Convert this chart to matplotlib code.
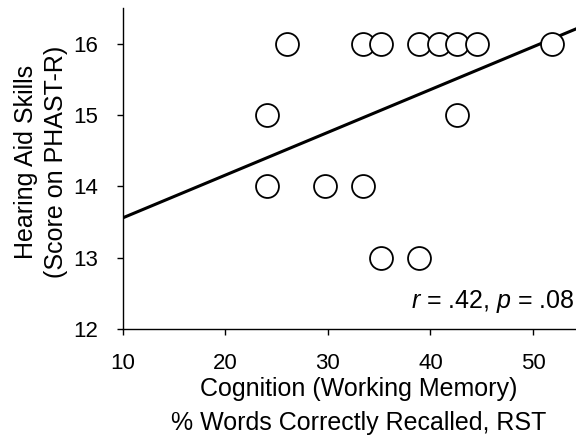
import numpy as np
import matplotlib
matplotlib.use("Agg")
from matplotlib import pyplot as plt

plt.rcParams['font.family'] = ['Liberation Sans', 'DejaVu Sans']
plt.rcParams['mathtext.fontset'] = 'custom'
plt.rcParams['mathtext.it'] = 'Liberation Sans:italic'
plt.rcParams['mathtext.rm'] = 'Liberation Sans'

# % words recalled (RST) vs PHAST-R score
rst = [26.0, 33.4, 35.2, 38.9, 40.8, 42.6, 44.5, 51.9,
       24.1, 42.6,
       24.1, 29.7, 33.4,
       35.2, 38.9]
phast = [16, 16, 16, 16, 16, 16, 16, 16,
         15, 15,
         14, 14, 14,
         13, 13]
# regression line as drawn in the figure
fit_icpt = 12.96
fit_slope = 0.0599
x_ticks = [10, 20, 30, 40, 50]
y_ticks = [12, 13, 14, 15, 16]
stats_txt = r'$\it{r}$ = .42, $\it{p}$ = .08'

fig = plt.figure(figsize=(5.76, 4.36), dpi=100)
ax = fig.add_axes([0.2135, 0.2454, 0.7865, 0.7363])

ax.plot(rst, phast, 'o', ms=16.5, mfc='white', mec='black', mew=1.3, zorder=3)

xl = np.array([10, 54.2])
ax.plot(xl, fit_icpt + fit_slope * xl, color='black', lw=2.2, zorder=2)

ax.set_xlim(10, 54.2)
ax.set_ylim(12, 16.5)
ax.set_xticks(x_ticks)
ax.set_yticks(y_ticks)
ax.spines['top'].set_visible(False)
ax.spines['right'].set_visible(False)
for s in ['left', 'bottom']:
    ax.spines[s].set_linewidth(1.0)
ax.tick_params(direction='out', length=4, width=1.0, labelsize=16)
ax.tick_params(axis='x', pad=13)
ax.tick_params(axis='y', pad=14)

ax.set_xlabel("Cognition (Working Memory)\n% Words Correctly Recalled, RST", fontsize=18, linespacing=1.5)
ax.xaxis.set_label_coords(0.52, -0.151)
ax.set_ylabel("Hearing Aid Skills\n(Score on PHAST-R)", fontsize=18, linespacing=1.3, va='center')
ax.yaxis.set_label_coords(-0.181, 0.52)

ax.text(54.1, 12.29, stats_txt, ha='right', va='baseline', fontsize=18)

plt.savefig("out.png", dpi=100)
